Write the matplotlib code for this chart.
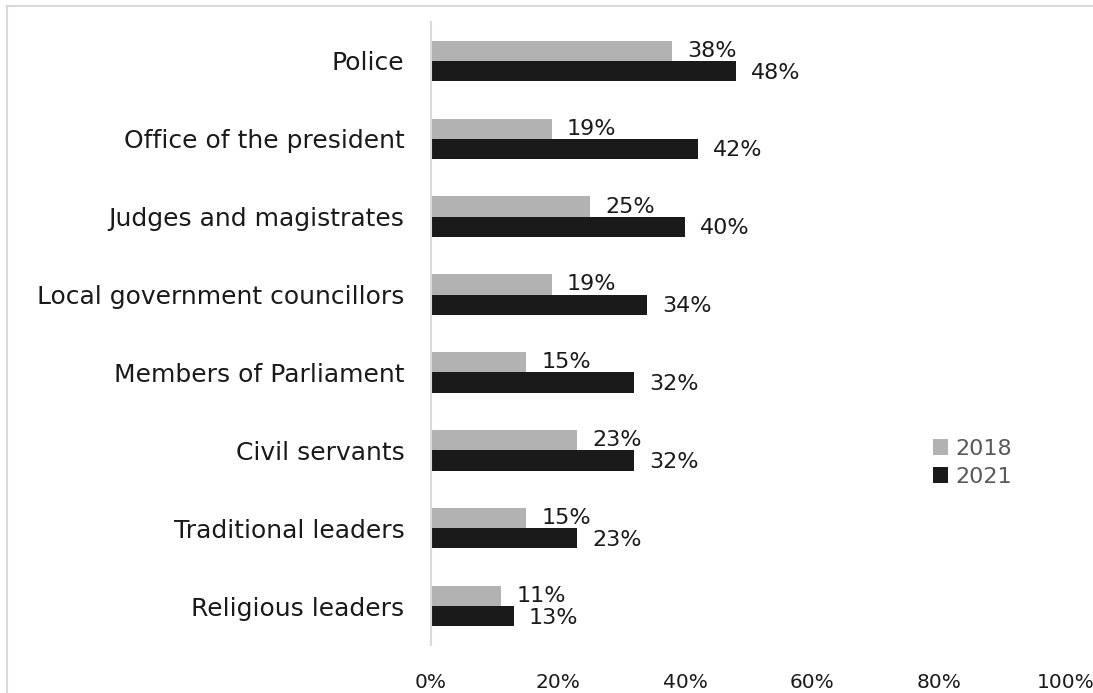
import matplotlib
matplotlib.use("Agg")
import matplotlib.pyplot as plt
from matplotlib.lines import Line2D
import numpy as np

categories = ["Police", "Office of the president", "Judges and magistrates",
              "Local government councillors", "Members of Parliament",
              "Civil servants", "Traditional leaders", "Religious leaders"]
values_2018 = [38, 19, 25, 19, 15, 23, 15, 11]
values_2021 = [48, 42, 40, 34, 32, 32, 23, 13]
xticks = [0, 20, 40, 60, 80, 100]

c2018 = "#b2b2b2"
c2021 = "#1a1a1a"

fig = plt.figure(figsize=(10.93, 6.93), dpi=100)
ax = fig.add_axes([0.3943, 0.0693, 0.5810, 0.8990])

n = len(categories)
y = np.arange(n)[::-1]
h = 0.26
ax.barh(y + 0.13, values_2018, height=h, color=c2018, label="2018")
ax.barh(y - 0.13, values_2021, height=h, color=c2021, label="2021")

# data labels
for yi, v in zip(y, values_2018):
    ax.annotate(f"{v}%", (v, yi + 0.13), xytext=(11, 0), textcoords="offset points",
                va="center", ha="left", fontsize=16, color="#1a1a1a")
for yi, v in zip(y, values_2021):
    ax.annotate(f"{v}%", (v, yi - 0.15), xytext=(11, 0), textcoords="offset points",
                va="center", ha="left", fontsize=16, color="#1a1a1a")

ax.set_xlim(0, 100)
ax.set_ylim(-0.5, n - 0.5)
ax.set_xticks(xticks)
ax.set_xticklabels([f"{t}%" for t in xticks], fontsize=14.5, color="#1a1a1a")
ax.get_xticklabels()[-1].set_x(99)
ax.set_yticks(y)
ax.set_yticklabels(categories, fontsize=18, color="#1a1a1a")
ax.tick_params(axis="both", length=0)
ax.tick_params(axis="x", pad=20)
ax.tick_params(axis="y", pad=19)

for s in ["top", "right", "bottom"]:
    ax.spines[s].set_visible(False)
ax.spines["left"].set_color("#d9d9d9")
ax.spines["left"].set_linewidth(1.5)

leg = fig.legend(loc="center left", bbox_to_anchor=(0.835, 0.332), frameon=False,
                 fontsize=16, handlelength=0.7, handleheight=0.7, handletextpad=0.3,
                 labelspacing=0.35)
for t in leg.get_texts():
    t.set_color("#595959")

# outer chart border (top and left visible)
fig.add_artist(Line2D([0.0064, 1.0], [0.9913, 0.9913], color="#d9d9d9", lw=1.5,
                      transform=fig.transFigure))
fig.add_artist(Line2D([0.0064, 0.0064], [0.0, 0.9913], color="#d9d9d9", lw=1.5,
                      transform=fig.transFigure))

fig.savefig("out.png", dpi=100, facecolor="white")
